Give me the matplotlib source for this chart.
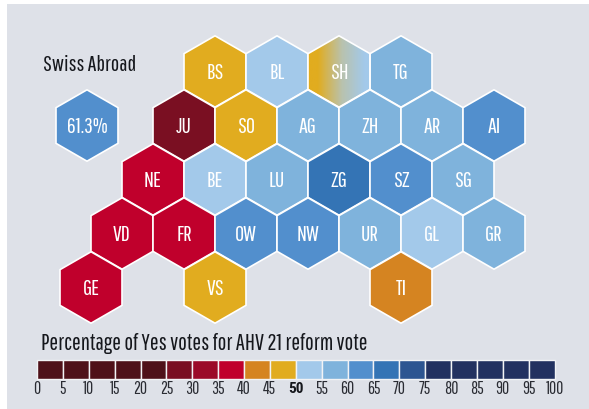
import numpy as np
import matplotlib
matplotlib.use('Agg')
import matplotlib.pyplot as plt
from matplotlib.colors import LinearSegmentedColormap
from matplotlib.patches import Polygon, Rectangle

plt.rcParams['font.family'] = ['Pathway Gothic One', 'Archivo Narrow', 'Liberation Sans', 'DejaVu Sans']

# hex map rows, None = empty slot
row_0 = [None, None, 'BS', 'BL', 'SH', 'TG']
row_1 = [None, 'JU', 'SO', 'AG', 'ZH', 'AR', 'AI']
row_2 = [None, 'NE', 'BE', 'LU', 'ZG', 'SZ', 'SG']
row_3 = ['VD', 'FR', 'OW', 'NW', 'UR', 'GL', 'GR']
row_4 = ['GE', None, 'VS', None, None, 'TI']
rows = [row_0, row_1, row_2, row_3, row_4]

yes_pct = {
    'BS': 47, 'BL': 52, 'SH': 50, 'TG': 58,
    'JU': 29, 'SO': 47, 'AG': 58, 'ZH': 57, 'AR': 58, 'AI': 62,
    'NE': 37, 'BE': 53, 'LU': 57, 'ZG': 67, 'SZ': 63, 'SG': 57,
    'VD': 37, 'FR': 38, 'OW': 61, 'NW': 62, 'UR': 58, 'GL': 53, 'GR': 57,
    'GE': 38, 'VS': 47, 'TI': 43,
}
abroad_pct = 61.3

bin_edges = list(range(0, 105, 5))
bin_colors = ['#4f1119', '#4f1119', '#4f1119', '#4f1119', '#4f1119',
              '#7a0f22', '#9b0a28', '#c0002c', '#d58421', '#e1ac1f',
              '#a3c9ea', '#7fb3dc', '#528fcd', '#3474b5', '#2d5591',
              '#223160', '#223160', '#223160', '#223160', '#223160']

BG = '#dee1e8'
W, H = 589, 410
HEX_W = 62.0
ROW_H = 54.0
HEX_R = 35.7


def pct_color(v):
    return bin_colors[min(int(v // 5), len(bin_colors) - 1)]


def hex_points(cx, cy, r=HEX_R, w=HEX_W):
    return [(cx, cy - r), (cx + w / 2, cy - r / 2), (cx + w / 2, cy + r / 2),
            (cx, cy + r), (cx - w / 2, cy + r / 2), (cx - w / 2, cy - r / 2)]


fig = plt.figure(figsize=(W / 100, H / 100), dpi=100, facecolor='white')
ax = fig.add_axes([0, 0, 1, 1])
ax.axis('off')

ax.add_patch(Rectangle((6.5, 5), W, H, facecolor=BG, edgecolor='none'))

for r, row in enumerate(rows):
    cy = 72.5 + r * ROW_H
    for c, name in enumerate(row):
        if name is None:
            continue
        cx = 91 + c * HEX_W + (r % 2) * HEX_W / 2
        pts = hex_points(cx, cy)
        if name == 'SH':
            # tied canton, fades from yellow to blue
            cmap = LinearSegmentedColormap.from_list(
                'sh', [(0, pct_color(47)), (0.15, pct_color(47)), (0.55, '#b9c2ae'), (0.92, pct_color(52)), (1, pct_color(52))])
            im = ax.imshow(np.linspace(0, 1, 64).reshape(1, -1), cmap=cmap, aspect='auto',
                           extent=(cx - HEX_W / 2, cx + HEX_W / 2, cy + HEX_R, cy - HEX_R), zorder=2)
            im.set_clip_path(Polygon(pts, transform=ax.transData))
            ax.add_patch(Polygon(pts, facecolor='none', edgecolor='white', lw=1.2, zorder=3))
        else:
            ax.add_patch(Polygon(pts, facecolor=pct_color(yes_pct[name]), edgecolor='white', lw=1.2, zorder=2))
        ax.text(cx, cy + 0.5, name, color='white', ha='center', va='center', fontsize=16, zorder=4)

# swiss abroad
ax.add_patch(Polygon(hex_points(87, 126.5), facecolor=pct_color(abroad_pct), edgecolor='white', lw=1.2, zorder=2))
ax.text(87, 127, f'{abroad_pct}%', color='white', ha='center', va='center', fontsize=15.5, zorder=4)
ax.text(43, 65, 'Swiss Abroad', color='#15171c', ha='left', va='center', fontsize=16)

# legend
ax.text(41, 344, 'Percentage of Yes votes for AHV 21 reform vote', color='#15171c',
        ha='left', va='center', fontsize=16.6)
x0, x1 = 37.0, 554.5
step = (x1 - x0) / (len(bin_edges) - 1)
for i, col in enumerate(bin_colors):
    ax.add_patch(Rectangle((x0 + i * step, 361), step, 19, facecolor=col, edgecolor='#f2f3f5', lw=1.0))
for i, v in enumerate(bin_edges):
    if v == 50:
        ax.text(x0 + i * step, 389, str(v), color='#15171c', ha='center', va='center', fontsize=11,
                family=['Roboto Condensed', 'Oswald', 'Liberation Sans'], fontweight='bold')
    else:
        ax.text(x0 + i * step, 389, str(v), color='#2a2c33', ha='center', va='center', fontsize=12.5)

ax.set_xlim(0, W)
ax.set_ylim(H, 0)
fig.savefig('out.png', dpi=100, facecolor='white')
